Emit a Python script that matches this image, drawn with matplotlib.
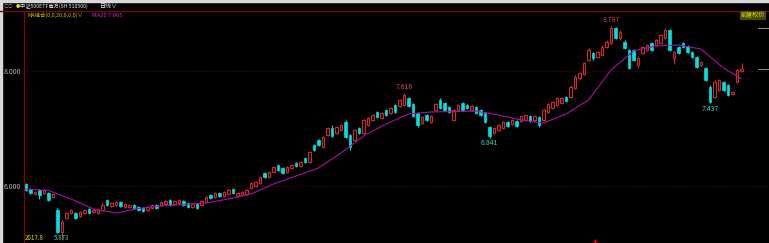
import numpy as np
import matplotlib
matplotlib.use('Agg')
import matplotlib.pyplot as plt
from matplotlib.lines import Line2D
from matplotlib.patches import Rectangle

plt.rcParams['font.family'] = ['Noto Sans CJK SC', 'DejaVu Sans']

# daily candles
opens = [6.035, 5.948, 5.861, 5.930, 5.878, 5.878, 5.809, 5.583, 5.200, 5.443,
         5.530, 5.530, 5.478, 5.530, 5.600, 5.548, 5.530, 5.583, 5.757, 5.652,
         5.670, 5.722, 5.635, 5.635, 5.670, 5.635, 5.617, 5.583, 5.617, 5.670,
         5.670, 5.687, 5.757, 5.687, 5.704, 5.739, 5.704, 5.635, 5.687, 5.670,
         5.722, 5.843, 5.809, 5.878, 5.826, 5.861, 5.948, 5.826, 5.843, 5.861,
         5.965, 6.000, 6.052, 6.226, 6.157, 6.243, 6.365, 6.313, 6.243, 6.313,
         6.400, 6.348, 6.487, 6.417, 6.713, 6.800, 6.678, 6.887, 7.009, 6.922,
         6.974, 7.113, 6.887, 6.800, 7.009, 6.922, 7.061, 7.148, 7.287, 7.183,
         7.322, 7.270, 7.409, 7.391, 7.409, 7.530, 7.426, 7.270, 7.096, 7.235,
         7.113, 7.322, 7.496, 7.443, 7.374, 7.148, 7.322, 7.443, 7.409, 7.322,
         7.374, 7.322, 7.270, 7.026, 6.922, 6.974, 7.009, 7.113, 7.078, 7.130,
         7.130, 7.148, 7.217, 7.148, 7.200, 7.148, 7.287, 7.357, 7.409, 7.443,
         7.548, 7.548, 7.704, 7.878, 7.948, 8.191, 8.313, 8.243, 8.278, 8.417,
         8.487, 8.748, 8.574, 8.504, 8.365, 8.365, 8.104, 8.313, 8.365, 8.487,
         8.452, 8.487, 8.574, 8.713, 8.226, 8.417, 8.487, 8.435, 8.330, 8.243,
         8.104, 8.052, 7.722, 7.548, 7.670, 7.809, 7.757, 7.600, 7.809, 8.000]
highs = [6.052, 5.965, 5.913, 5.948, 5.948, 5.896, 5.878, 5.617, 5.409, 5.548,
         5.600, 5.548, 5.565, 5.600, 5.617, 5.600, 5.600, 5.704, 5.774, 5.722,
         5.739, 5.739, 5.704, 5.687, 5.687, 5.652, 5.635, 5.652, 5.687, 5.687,
         5.739, 5.757, 5.774, 5.757, 5.774, 5.757, 5.722, 5.704, 5.704, 5.757,
         5.826, 5.861, 5.896, 5.896, 5.913, 5.948, 5.965, 5.896, 5.913, 5.948,
         6.070, 6.087, 6.174, 6.243, 6.261, 6.348, 6.383, 6.330, 6.348, 6.383,
         6.417, 6.435, 6.504, 6.609, 6.730, 6.817, 6.870, 7.026, 7.061, 7.043,
         7.078, 7.148, 6.904, 6.991, 7.026, 7.165, 7.200, 7.252, 7.304, 7.287,
         7.339, 7.374, 7.426, 7.513, 7.616, 7.548, 7.443, 7.287, 7.217, 7.252,
         7.235, 7.443, 7.530, 7.461, 7.391, 7.339, 7.426, 7.461, 7.426, 7.409,
         7.391, 7.339, 7.287, 7.043, 7.026, 7.078, 7.130, 7.130, 7.165, 7.148,
         7.235, 7.252, 7.235, 7.235, 7.217, 7.339, 7.443, 7.478, 7.548, 7.548,
         7.565, 7.757, 7.930, 7.983, 8.157, 8.400, 8.330, 8.348, 8.452, 8.539,
         8.787, 8.765, 8.713, 8.539, 8.383, 8.383, 8.261, 8.435, 8.470, 8.504,
         8.557, 8.643, 8.748, 8.730, 8.348, 8.435, 8.504, 8.452, 8.348, 8.261,
         8.174, 8.070, 7.757, 7.843, 7.861, 7.826, 7.774, 7.652, 8.035, 8.139]
lows = [5.913, 5.861, 5.843, 5.774, 5.861, 5.739, 5.791, 5.183, 5.061, 5.426,
        5.513, 5.426, 5.461, 5.513, 5.513, 5.530, 5.513, 5.565, 5.652, 5.635,
        5.652, 5.635, 5.617, 5.617, 5.600, 5.565, 5.548, 5.565, 5.600, 5.600,
        5.652, 5.670, 5.652, 5.670, 5.687, 5.652, 5.617, 5.617, 5.600, 5.652,
        5.704, 5.774, 5.791, 5.809, 5.809, 5.843, 5.861, 5.809, 5.826, 5.843,
        5.948, 5.983, 6.035, 6.139, 6.139, 6.226, 6.261, 6.209, 6.226, 6.296,
        6.330, 6.330, 6.400, 6.400, 6.609, 6.696, 6.661, 6.870, 6.852, 6.904,
        6.957, 6.835, 6.626, 6.783, 6.904, 6.904, 7.043, 7.130, 7.183, 7.165,
        7.217, 7.252, 7.270, 7.374, 7.391, 7.374, 7.200, 7.026, 7.078, 7.130,
        7.096, 7.304, 7.339, 7.304, 7.270, 7.130, 7.304, 7.304, 7.339, 7.304,
        7.252, 7.217, 7.096, 6.841, 6.904, 6.957, 6.991, 7.026, 7.061, 7.026,
        7.113, 7.130, 7.113, 7.130, 7.026, 7.130, 7.270, 7.339, 7.391, 7.426,
        7.461, 7.530, 7.687, 7.843, 7.930, 8.174, 8.191, 8.226, 8.261, 8.400,
        8.470, 8.557, 8.539, 8.383, 8.035, 8.174, 8.070, 8.296, 8.348, 8.348,
        8.435, 8.470, 8.557, 8.348, 8.122, 8.296, 8.400, 8.313, 8.226, 8.052,
        8.087, 7.826, 7.437, 7.530, 7.652, 7.652, 7.565, 7.583, 7.791, 7.983]
closes = [5.930, 5.878, 5.896, 5.843, 5.930, 5.757, 5.861, 5.200, 5.374, 5.530,
          5.583, 5.443, 5.548, 5.583, 5.530, 5.583, 5.583, 5.670, 5.670, 5.704,
          5.722, 5.652, 5.687, 5.670, 5.617, 5.583, 5.565, 5.635, 5.670, 5.617,
          5.722, 5.739, 5.670, 5.739, 5.757, 5.670, 5.635, 5.687, 5.617, 5.739,
          5.809, 5.791, 5.878, 5.826, 5.896, 5.930, 5.878, 5.878, 5.896, 5.930,
          6.052, 6.070, 6.157, 6.157, 6.243, 6.330, 6.278, 6.226, 6.330, 6.365,
          6.348, 6.417, 6.417, 6.591, 6.626, 6.713, 6.852, 7.009, 6.870, 7.026,
          7.061, 6.852, 6.678, 6.974, 6.922, 7.148, 7.183, 7.235, 7.200, 7.270,
          7.235, 7.357, 7.287, 7.496, 7.583, 7.391, 7.217, 7.061, 7.200, 7.148,
          7.217, 7.426, 7.357, 7.322, 7.287, 7.322, 7.409, 7.322, 7.357, 7.391,
          7.270, 7.235, 7.113, 6.870, 7.009, 7.061, 7.113, 7.043, 7.148, 7.043,
          7.217, 7.235, 7.130, 7.217, 7.061, 7.322, 7.426, 7.461, 7.530, 7.530,
          7.478, 7.722, 7.896, 7.965, 8.139, 8.365, 8.226, 8.330, 8.417, 8.504,
          8.748, 8.574, 8.678, 8.400, 8.052, 8.191, 8.226, 8.417, 8.452, 8.365,
          8.539, 8.626, 8.713, 8.365, 8.330, 8.313, 8.417, 8.330, 8.243, 8.070,
          8.157, 7.843, 7.461, 7.809, 7.843, 7.670, 7.583, 7.635, 8.017, 8.035]

# MA20 read every 5 bars
ma_idx = [0, 5, 10, 15, 20, 25, 30, 35, 40, 45, 50, 55, 60, 65, 70, 75, 80,
          85, 90, 95, 100, 105, 110, 115, 120, 125, 130, 135, 140, 145, 150, 155, 159]
ma20 = [5.948, 5.922, 5.774, 5.600, 5.530, 5.609, 5.652, 5.678, 5.704, 5.774,
        5.861, 6.035, 6.174, 6.313, 6.574, 6.870, 7.078, 7.252, 7.287, 7.296,
        7.304, 7.235, 7.148, 7.096, 7.252, 7.496, 8.017, 8.348, 8.435, 8.452,
        8.383, 8.052, 7.865]

yticks = [6.0, 8.0]
ytick_labels = ['6.000', '8.000']

W, H = 769, 243
fig = plt.figure(figsize=(W / 100, H / 100), dpi=100, facecolor='black')
ax = fig.add_axes([24 / W, 0, 745 / W, 232 / H])
ax.set_facecolor('black')

o = np.array(opens); h = np.array(highs); l = np.array(lows); c = np.array(closes)
x = np.arange(len(o))
up = c >= o
red = '#d02a2a'
cyan = '#00e0e0'

# wicks
ax.vlines(x[up], l[up], h[up], color=red, lw=0.8, zorder=2)
ax.vlines(x[~up], l[~up], h[~up], color=cyan, lw=0.8, zorder=2)
# bodies
body = np.maximum(np.abs(c - o), 0.012)
ax.bar(x[up], body[up], bottom=o[up], width=0.62, facecolor='black',
       edgecolor=red, linewidth=0.8, zorder=3)
ax.bar(x[~up], body[~up], bottom=c[~up], width=0.62, facecolor=cyan,
       edgecolor=cyan, linewidth=0.5, zorder=3)

ax.plot(ma_idx, ma20, color='#a810a8', lw=0.8, zorder=4)

# dotted reference lines
for v in yticks:
    ax.axhline(v, color='#701010', lw=0.6, ls=(0, (1, 2)), zorder=1)

# extreme labels
imax = int(np.argmax(h))
ax.text(imax, h[imax] + 0.03, '%.3f' % h[imax], color='#e04848', fontsize=5,
        ha='center', va='bottom')
ax.text(84, h[84] + 0.03, '%.3f' % h[84], color='#e04848', fontsize=5,
        ha='center', va='bottom')
ax.text(103, l[103] - 0.03, '%.3f' % l[103], color='#30d0d0', fontsize=5,
        ha='center', va='top')
ax.text(152, l[152] - 0.03, '%.3f' % l[152], color='#30d0d0', fontsize=5,
        ha='center', va='top')

ax.set_xlim(-0.444, 165.11)
ax.set_ylim(5.0087, 9.0435)
ax.set_xticks([])
ax.set_yticks(yticks)
ax.set_yticklabels(ytick_labels, color='#b8b8b8', fontsize=5)
ax.tick_params(axis='y', length=0, pad=2)
for s in ['right', 'bottom']:
    ax.spines[s].set_visible(False)
for s in ['left', 'top']:
    ax.spines[s].set_color('#7a0a0a')
    ax.spines[s].set_linewidth(1.0)

# right edge ticks
for v in [8.748, 8.035]:
    ax.axhline(v, xmin=0.985, xmax=1.0, color='#909090', lw=0.7)
ax.plot([126.4], [5.04], marker='+', color='red', ms=3, mew=1, clip_on=False)

# frame bits
fig.add_artist(Line2D([0, 24 / W], [232 / H, 232 / H], color='#7a0a0a', lw=1.0))
fig.add_artist(Rectangle((0, 0), 2.3 / W, 1, color='#d8d8d8', transform=fig.transFigure))
fig.add_artist(Rectangle((0, 1 - 2.5 / H), 1, 2.5 / H, color='#d8d8d8', transform=fig.transFigure))

# header texts
ty = 1 - 6.5 / H
fig.text(4 / W, ty, '○○', color='#909090', fontsize=3.5, va='center')
fig.text(15.5 / W, ty, '●', color='#e0e000', fontsize=3, va='center')
fig.text(19.5 / W, ty, '中证500ETF南方(SH 510500)', color='#e8e8e8', fontsize=3.8, va='center')
fig.text(100 / W, ty, '日线∨', color='#e8e8e8', fontsize=4.3, va='center')
ty2 = 1 - 15 / H
fig.text(27 / W, ty2, 'MA组合(0,0,20,0,0,0)∨', color='#c8c800', fontsize=3.9, va='center')
fig.text(92 / W, ty2, 'MA20 7.865', color='#e020e0', fontsize=4.2, va='center')
fig.text(765 / W, 1 - 15.5 / H, '前复权价', color='#e0e000', fontsize=4.4, va='center',
         ha='right', bbox=dict(boxstyle='square,pad=0.15', fc='#4a4a00', ec='none'))
fig.text(25 / W, 1.5 / H, '2017.8', color='#e0e000', fontsize=4.5, va='bottom')
fig.text(62 / W, 1.5 / H, '5.873', color='#30d0d0', fontsize=4.5, va='bottom', ha='center')

fig.savefig('out.png', dpi=100, facecolor='black')
